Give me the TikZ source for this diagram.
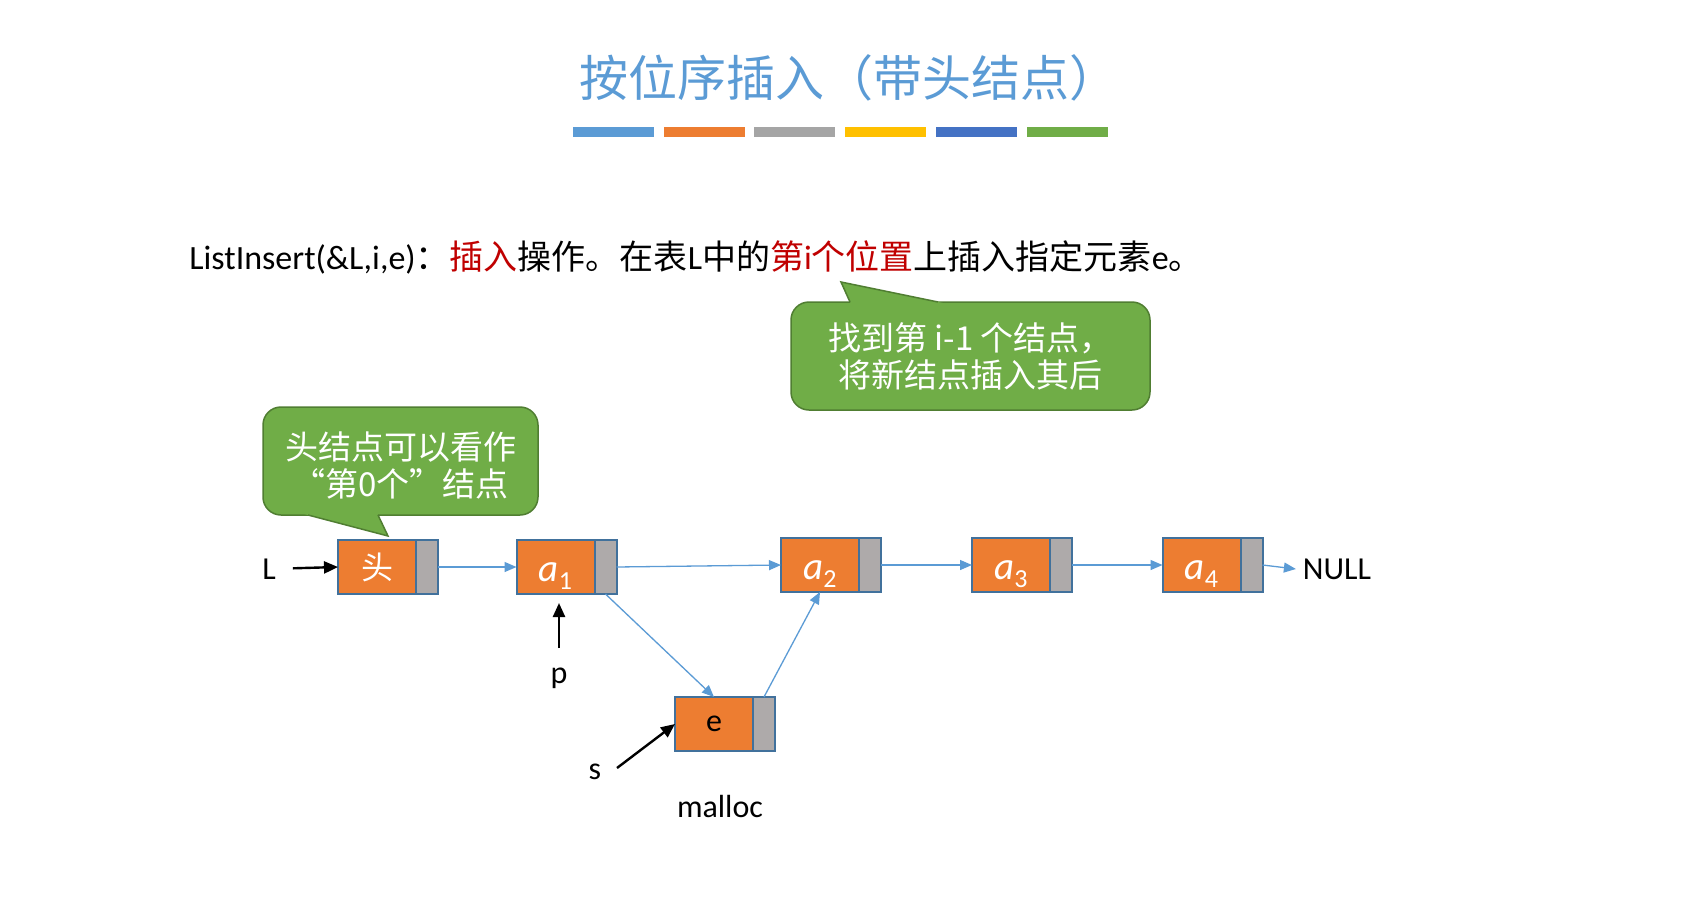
\documentclass[tikz,border=0pt]{standalone}
\usepackage{fontspec}
\setmainfont{Carlito}
\newfontfamily\cjk{Noto Sans CJK SC}
\usetikzlibrary{positioning,arrows.meta}
\definecolor{titleblue}{HTML}{5B9BD5}
\definecolor{linkblue}{HTML}{5B9BD5}
\definecolor{nodeorange}{HTML}{ED7D31}
\definecolor{nodegray}{HTML}{AEAAAA}
\definecolor{nodeedge}{HTML}{41719C}
\definecolor{notegreen}{HTML}{70AD47}
\definecolor{noteedge}{HTML}{507E32}
\definecolor{keyred}{HTML}{C00000}
\definecolor{barA}{HTML}{5B9BD5}
\definecolor{barB}{HTML}{ED7D31}
\definecolor{barC}{HTML}{A5A5A5}
\definecolor{barD}{HTML}{FFC000}
\definecolor{barE}{HTML}{4472C4}
\definecolor{barF}{HTML}{70AD47}
\newcommand{\elem}[1]{\textit{a}\raisebox{-4pt}{\fontsize{13}{14}\selectfont #1}}

\begin{document}
\begin{tikzpicture}[x=0.5pt,y=-0.5pt,
  datafield/.style={draw=nodeedge, line width=1pt, fill=nodeorange, outer sep=0pt, inner sep=0pt, minimum width=39pt, minimum height=27pt, text=white, font=\fontsize{19.5}{22}\selectfont},
  elemfield/.style={datafield, text height=14pt, text depth=0pt},
  nextfield/.style={draw=nodeedge, line width=1pt, fill=nodegray, outer sep=0pt, inner sep=0pt, minimum width=11pt, minimum height=27pt, right=0pt of #1},
  link/.style={-{Triangle[length=6pt,width=5pt]}, draw=linkblue, line width=0.65pt},
  pointer/.style={-{Triangle[length=7pt,width=6pt]}, draw=black, line width=1.2pt},
  tag/.style={font=\fontsize{16}{19}\selectfont},
  note/.style={fill=notegreen, draw=noteedge, line width=0.75pt, rounded corners=9pt, text=white, align=center, inner sep=0pt, font=\cjk\fontsize{16.5}{18.5}\selectfont}]
\useasboundingbox (0,0) rectangle (1694,900);
\fill[white] (0,0) rectangle (1694,900);

% title and colour bars
\node[font=\cjk\fontsize{24.5}{28}\selectfont, text=titleblue] (title) at (849,78) {按位序插入（带头结点）};
\foreach \c [count=\i from 0] in {barA,barB,barC,barD,barE,barF}
  \fill[\c] (573+\i*90.7,127) rectangle ++(81,10);

% description
\node[anchor=west, inner sep=0pt, font=\fontsize{17}{20}\selectfont] (desc) at (189,257)
  {ListInsert(\&L,i,e){\cjk ：}\textcolor{keyred}{\cjk 插入}{\cjk 操作。在表}L{\cjk 中的}\textcolor{keyred}{{\cjk 第}i{\cjk 个位置}}{\cjk 上插入指定元素}e{\cjk 。}};

% callouts
\node[note, minimum width=179.5pt, minimum height=54pt] (findnote) at (970.5,356) {找到第 i-1 个结点，\\将新结点插入其后};
\fill[notegreen] (851.4,305) -- (841,282) -- (952.5,305) -- cycle;
\draw[noteedge, line width=0.75pt] (850,302) -- (841,282) -- (938,302);

\node[note, minimum width=137.5pt, minimum height=54pt] (headnote) at (400.5,461) {};
\node[note, draw=none, fill=none] (headtext) at (400.5,465) {头结点可以看作\\“第0个”结点};
\fill[notegreen] (296.6,512) -- (388,536) -- (376.6,512) -- cycle;
\draw[noteedge, line width=0.75pt] (308,515) -- (388,536) -- (378,515);

% list nodes
\node[datafield] (h) at (377,567) {\cjk\fontsize{16}{19}\selectfont 头};
\node[nextfield=h] (hn) {};
\node[elemfield] (a1) at (555.5,567) {\elem{1}};
\node[nextfield=a1] (a1n) {};
\node[elemfield] (a2) at (820,565) {\elem{2}};
\node[nextfield=a2] (a2n) {};
\node[elemfield] (a3) at (1011,565) {\elem{3}};
\node[nextfield=a3] (a3n) {};
\node[elemfield] (a4) at (1201.5,565) {\elem{4}};
\node[nextfield=a4] (a4n) {};
\node[datafield, text=black, font=\fontsize{16}{19}\selectfont] (e) at (714,724) {e};
\node[nextfield=e] (en) {};

% labels
\node[tag] (L) at (269,569) {L};
\node[tag] (null) at (1337,569) {NULL};
\node[tag] (p) at (559,678) {p};
\node[tag] (s) at (595,772) {s};
\node[tag] (malloc) at (720,806) {malloc};
\coordinate (ptail) at (559,648);
\coordinate (stail) at (617,768);

% links
\draw[link] (hn.east) -- (a1.west);
\draw[link] (a1n.east) -- (a2.west);
\draw[link] (a2n.east) -- (a3.west);
\draw[link] (a3n.east) -- (a4.west);
\draw[link] (a4n.east) -- (null.west);
\draw[link] (a1n.south) -- (e.north);
\draw[link] (en.north) -- (a2.south);

% pointers
\draw[pointer, shorten <=5pt] (L) -- (h.west);
\draw[pointer, shorten >=4.5pt] (ptail) -- (ptail |- a1.south);
\draw[pointer] (stail) -- (e.west);
\end{tikzpicture}
\end{document}
